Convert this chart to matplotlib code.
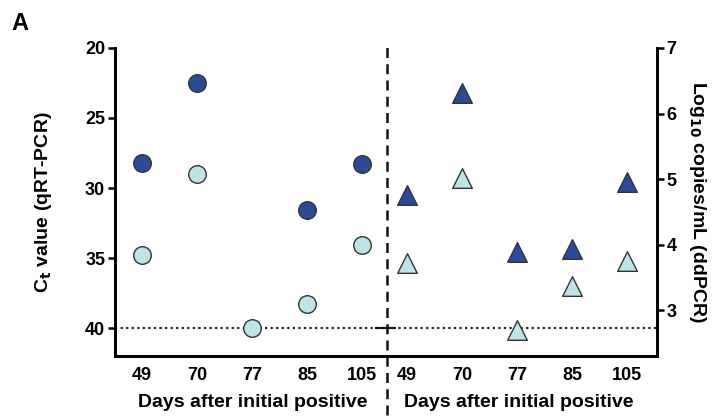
import matplotlib
matplotlib.use('Agg')
import matplotlib.pyplot as plt
import numpy as np

plt.rcParams['font.family'] = ['Liberation Sans', 'DejaVu Sans']
plt.rcParams['font.weight'] = 'bold'

# day labels for the two halves
days = ['49', '70', '77', '85', '105']

# qRT-PCR Ct values (left half), None = not detected
ct_dark = [28.2, 22.5, None, 31.6, 28.3]
ct_light = [34.8, 29.0, 40.0, 38.3, 34.1]

# ddPCR log10 copies/mL (right half)
log_dark = [4.76, 6.31, 3.89, 3.93, 4.95]
log_light = [3.72, 5.02, 2.70, 3.37, 3.75]

ct_lod = 40
dark_col = '#2b4a98'
light_col = '#bde4e6'
edge_col = '#333333'

x_left = np.arange(5)
x_right = np.arange(5) + 4.82

fig = plt.figure(figsize=(7.18, 4.17), dpi=100, facecolor='white')
ax = fig.add_axes([0.160, 0.146, 0.755, 0.739])
ax2 = ax.twinx()

# left half: circles on Ct axis
xd = [x for x, v in zip(x_left, ct_dark) if v is not None]
yd = [v for v in ct_dark if v is not None]
ax.scatter(x_left, ct_light, s=160, marker='o', color=light_col, edgecolor=edge_col, linewidth=1, zorder=3, clip_on=False)
ax.scatter(xd, yd, s=160, marker='o', color=dark_col, edgecolor=edge_col, linewidth=1, zorder=4, clip_on=False)

# right half: triangles on log axis
ax2.scatter(x_right, log_light, s=200, marker='^', color=light_col, edgecolor=edge_col, linewidth=1, zorder=3, clip_on=False)
ax2.scatter(x_right, log_dark, s=200, marker='^', color=dark_col, edgecolor=edge_col, linewidth=1, zorder=4, clip_on=False)

ax.set_xlim(-0.49, 9.36)
ax.set_ylim(42, 20)
ax2.set_ylim(2.30, 7)

ax.axhline(ct_lod, color='#222222', linestyle=(0, (1, 1.5)), linewidth=1.6, zorder=2)
ax.axvline(4.45, ymin=-0.19, ymax=1.015, color='#111111', linestyle=(0, (4, 2.5)), linewidth=1.8, clip_on=False, zorder=2)
ax.plot([4.25, 4.6], [ct_lod, ct_lod], color='#111111', linewidth=1.5, zorder=2)

ax.set_xticks(np.concatenate([x_left, x_right]))
ax.set_xticklabels(days + days)
ax.tick_params(axis='x', length=0, pad=8, labelsize=13)
ax.set_yticks([20, 25, 30, 35, 40])
ax.tick_params(axis='y', length=5, width=1.8, labelsize=13, pad=2)
ax2.set_yticks([3, 4, 5, 6, 7])
ax2.tick_params(axis='y', length=5, width=1.8, labelsize=13, pad=2)

for a in (ax, ax2):
    a.spines['top'].set_visible(False)
    for s in ('left', 'right', 'bottom'):
        a.spines[s].set_linewidth(2)

ax.set_ylabel('C$_\\mathbf{t}$ value (qRT-PCR)', fontsize=14, fontweight='bold')
ax.yaxis.set_label_coords(-0.113, 0.5)
ax2.set_ylabel('Log$_\\mathbf{10}$ copies/mL (ddPCR)', fontsize=14, fontweight='bold', rotation=270, va='center')
ax2.yaxis.set_label_coords(1.074, 0.5)

fig.text(0.352, 0.025, 'Days after initial positive', ha='center', fontsize=14, fontweight='bold')
fig.text(0.722, 0.025, 'Days after initial positive', ha='center', fontsize=14, fontweight='bold')
fig.text(0.016, 0.928, 'A', fontsize=17, fontweight='bold')

plt.savefig('out.png', dpi=100)
